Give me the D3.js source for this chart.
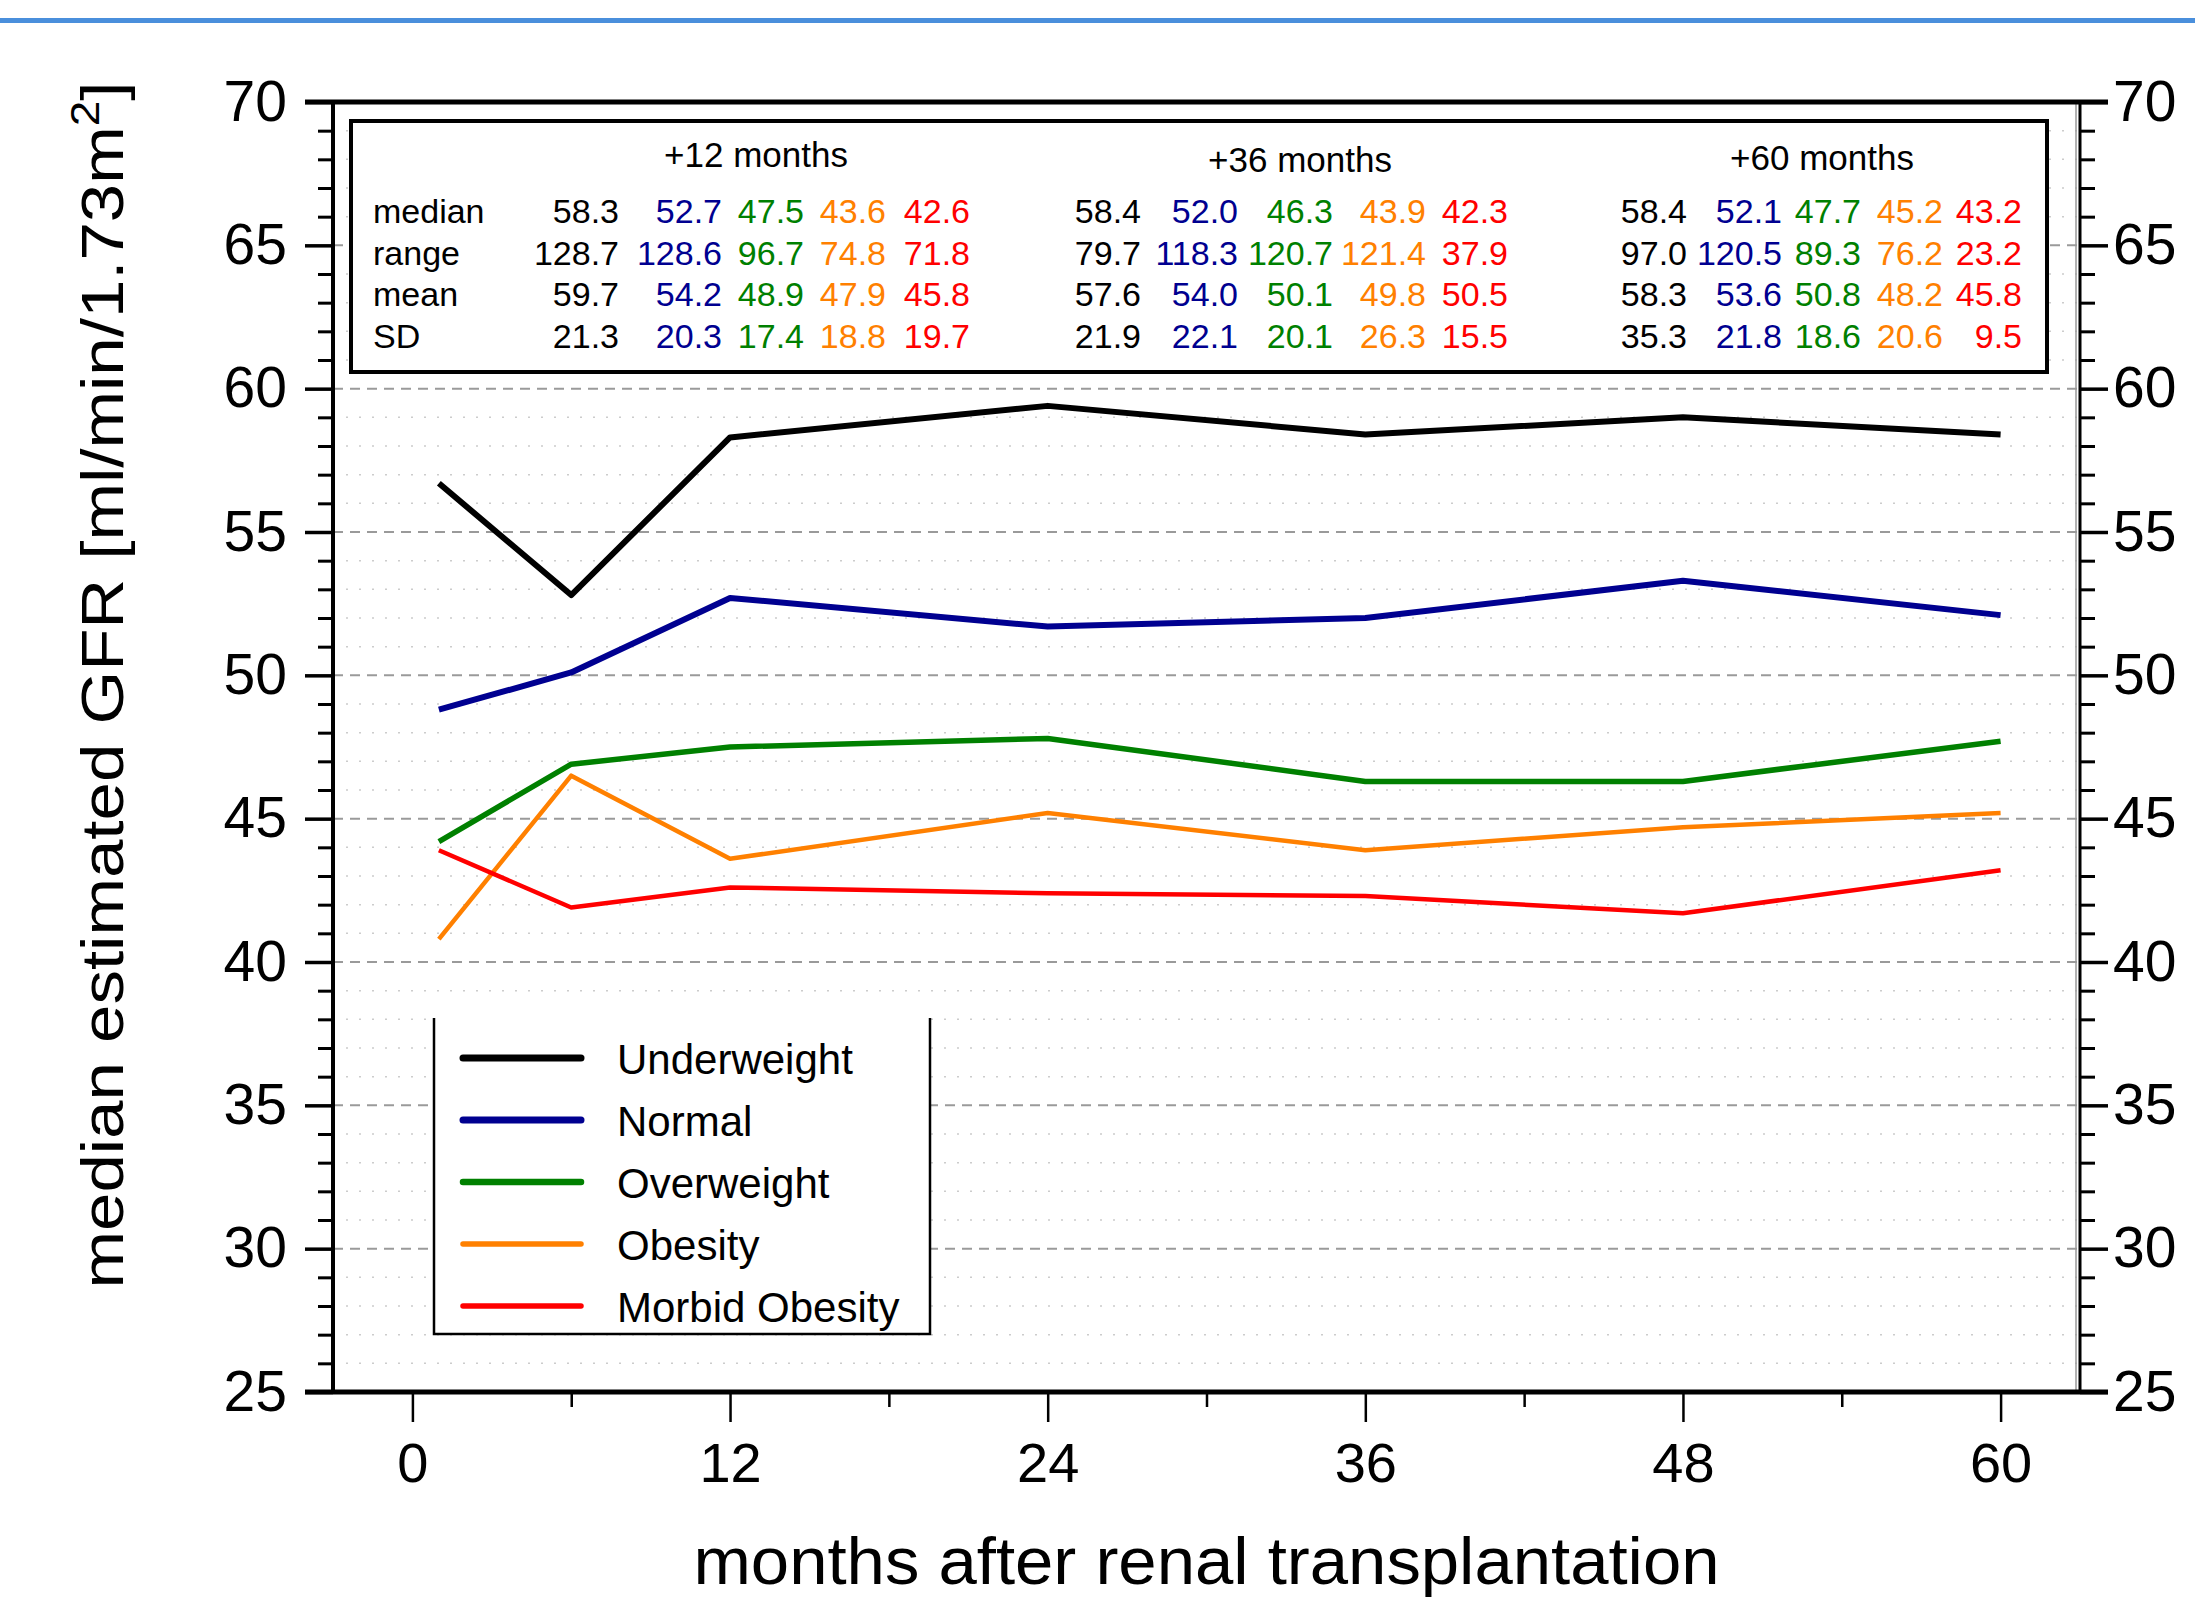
<!DOCTYPE html>
<html>
<head>
<meta charset="utf-8">
<script src="https://cdn.jsdelivr.net/npm/d3@7.9.0/dist/d3.min.js"></script>
<style>
  body { margin: 0; background: #fff; }
  svg { display: block; font-family: "Liberation Sans", Arial, sans-serif; }
</style>
</head>
<body>
<svg id="chart" width="2195" height="1597"></svg>
<script>
// data
const months = [1, 6, 12, 24, 36, 48, 60];
const underweight = [56.7, 52.8, 58.3, 59.4, 58.4, 59.0, 58.4];
const normal = [48.8, 50.1, 52.7, 51.7, 52.0, 53.3, 52.1];
const overweight = [44.2, 46.9, 47.5, 47.8, 46.3, 46.3, 47.7];
const obesity = [40.8, 46.5, 43.6, 45.2, 43.9, 44.7, 45.2];
const morbidObesity = [43.9, 41.9, 42.6, 42.4, 42.3, 41.7, 43.2];

const seriesNames = ["Underweight", "Normal", "Overweight", "Obesity", "Morbid Obesity"];
const seriesColors = ["#000000", "#000090", "#008000", "#ff8000", "#ff0000"];
const seriesWidths = [6, 6, 5.5, 4.5, 4.5];

const xTicks = [0, 12, 24, 36, 48, 60];
const xMinorTicks = [6, 18, 30, 42, 54];
const yTicks = [25, 30, 35, 40, 45, 50, 55, 60, 65, 70];

// summary table
const statLabels = ["median", "range", "mean", "SD"];
const tableTitles = ["+12 months", "+36 months", "+60 months"];
const stats12 = [[58.3, 52.7, 47.5, 43.6, 42.6], [128.7, 128.6, 96.7, 74.8, 71.8], [59.7, 54.2, 48.9, 47.9, 45.8], [21.3, 20.3, 17.4, 18.8, 19.7]];
const stats36 = [[58.4, 52.0, 46.3, 43.9, 42.3], [79.7, 118.3, 120.7, 121.4, 37.9], [57.6, 54.0, 50.1, 49.8, 50.5], [21.9, 22.1, 20.1, 26.3, 15.5]];
const stats60 = [[58.4, 52.1, 47.7, 45.2, 43.2], [97.0, 120.5, 89.3, 76.2, 23.2], [58.3, 53.6, 50.8, 48.2, 45.8], [35.3, 21.8, 18.6, 20.6, 9.5]];

const series = [underweight, normal, overweight, obesity, morbidObesity];
const tables = [stats12, stats36, stats60];

const svg = d3.select("#chart");

const x = d3.scaleLinear().domain([-3, 63]).range([333, 2080]);
const y = d3.scaleLinear().domain([25, 70]).range([1392, 102]);
const [x0, x1] = x.range();

// top rule of the page
svg.append("rect").attr("x", 0).attr("y", 18).attr("width", 2195).attr("height", 5).attr("fill", "#4a8fdc");

// grid
const grid = svg.append("g");
grid.selectAll("line.minor")
  .data(d3.range(26, 70).filter(v => v % 5 !== 0))
  .join("line")
  .attr("x1", x0).attr("x2", x1)
  .attr("y1", d => y(d)).attr("y2", d => y(d))
  .attr("stroke", "#cccccc").attr("stroke-width", 1.5)
  .attr("stroke-dasharray", "2,11");
grid.selectAll("line.major")
  .data(yTicks.filter(v => v > 25 && v < 70))
  .join("line")
  .attr("x1", x0).attr("x2", x1)
  .attr("y1", d => y(d)).attr("y2", d => y(d))
  .attr("stroke", "#9a9a9a").attr("stroke-width", 2)
  .attr("stroke-dasharray", "10,7");

// summary table box
const tbl = svg.append("g");
tbl.append("rect").attr("x", 351).attr("y", 121).attr("width", 1696).attr("height", 251)
  .attr("fill", "#fff").attr("stroke", "#000").attr("stroke-width", 4);

const titleX = [756, 1300, 1822];
const titleY = [167, 172, 170];
const colRight = [[619, 722, 804, 886, 970], [1141, 1238, 1333, 1426, 1508], [1687, 1782, 1861, 1943, 2022]];
const rowY = [223, 265, 306, 348];

tableTitles.forEach((t, i) => {
  tbl.append("text").attr("x", titleX[i]).attr("y", titleY[i])
    .attr("text-anchor", "middle").attr("font-size", 35).text(t);
});
statLabels.forEach((s, r) => {
  tbl.append("text").attr("x", 373).attr("y", rowY[r]).attr("font-size", 34).text(s);
});
tables.forEach((tab, ti) => {
  tab.forEach((row, r) => {
    row.forEach((v, c) => {
      tbl.append("text")
        .attr("x", colRight[ti][c]).attr("y", rowY[r])
        .attr("text-anchor", "end").attr("font-size", 34)
        .attr("fill", seriesColors[c])
        .text(v.toFixed(1));
    });
  });
});

// legend box (no top edge in the original)
const leg = svg.append("g");
leg.append("rect").attr("x", 434).attr("y", 1018).attr("width", 496).attr("height", 316).attr("fill", "#fff");
leg.append("path").attr("d", "M434,1018V1334H930V1018")
  .attr("fill", "none").attr("stroke", "#000").attr("stroke-width", 2.5);
seriesNames.forEach((n, i) => {
  const cy = 1058 + i * 62;
  leg.append("line").attr("x1", 463).attr("x2", 581).attr("y1", cy).attr("y2", cy)
    .attr("stroke", seriesColors[i]).attr("stroke-width", seriesWidths[i] + 1).attr("stroke-linecap", "round");
  leg.append("text").attr("x", 617).attr("y", cy + 16).attr("font-size", 42).text(n);
});

// series lines
const line = d3.line().x((d, i) => x(months[i])).y(d => y(d));
series.forEach((s, i) => {
  svg.append("path").datum(s).attr("d", line)
    .attr("fill", "none").attr("stroke", seriesColors[i])
    .attr("stroke-width", seriesWidths[i]).attr("stroke-linejoin", "round");
});

// axes
const styleAxis = (g, w) => {
  g.select(".domain").remove();
  g.selectAll(".tick line").attr("stroke", "#000").attr("stroke-width", w);
  g.selectAll("text").attr("font-family", "Liberation Sans, Arial, sans-serif").attr("fill", "#000");
};

const yMinor = d3.range(25, 71).filter(v => v % 5 !== 0);

svg.append("g").attr("transform", `translate(${x0},0)`)
  .call(d3.axisLeft(y).tickValues(yMinor).tickSize(15).tickFormat(""))
  .call(g => styleAxis(g, 3));
svg.append("g").attr("transform", `translate(${x0},0)`)
  .call(d3.axisLeft(y).tickValues(yTicks).tickSize(28).tickPadding(18))
  .call(g => styleAxis(g, 3.5))
  .call(g => g.selectAll("text").attr("font-size", 57));

svg.append("g").attr("transform", `translate(${x1},0)`)
  .call(d3.axisRight(y).tickValues(yMinor).tickSize(15).tickFormat(""))
  .call(g => styleAxis(g, 3));
svg.append("g").attr("transform", `translate(${x1},0)`)
  .call(d3.axisRight(y).tickValues(yTicks).tickSize(28).tickPadding(5))
  .call(g => styleAxis(g, 3.5))
  .call(g => g.selectAll("text").attr("font-size", 57));

svg.append("g").attr("transform", `translate(0,${y(25)})`)
  .call(d3.axisBottom(x).tickValues(xMinorTicks).tickSize(15).tickFormat(""))
  .call(g => styleAxis(g, 2.5));
svg.append("g").attr("transform", `translate(0,${y(25)})`)
  .call(d3.axisBottom(x).tickValues(xTicks).tickSize(30).tickPadding(20))
  .call(g => styleAxis(g, 2.5))
  .call(g => g.selectAll("text").attr("font-size", 56));

// frame lines
svg.append("line").attr("x1", x0).attr("x2", x0).attr("y1", y(70)).attr("y2", y(25))
  .attr("stroke", "#000").attr("stroke-width", 4);
svg.append("line").attr("x1", x1 - 4).attr("x2", x1 - 4).attr("y1", y(70)).attr("y2", y(25))
  .attr("stroke", "#999").attr("stroke-width", 1.5);
svg.append("line").attr("x1", x1).attr("x2", x1).attr("y1", y(70)).attr("y2", y(25))
  .attr("stroke", "#000").attr("stroke-width", 3);
svg.append("line").attr("x1", x0 - 28).attr("x2", x1 + 28).attr("y1", y(70)).attr("y2", y(70))
  .attr("stroke", "#000").attr("stroke-width", 5);
svg.append("line").attr("x1", x0 - 28).attr("x2", x1 + 28).attr("y1", y(25)).attr("y2", y(25))
  .attr("stroke", "#000").attr("stroke-width", 5);

// axis titles
svg.append("text")
  .attr("transform", `translate(123,${(y(70) + y(25)) / 2 - 62}) rotate(-90)`)
  .attr("text-anchor", "middle").attr("font-size", 60)
  .attr("textLength", 1207).attr("lengthAdjust", "spacingAndGlyphs")
  .call(t => {
    t.append("tspan").text("median estimated GFR [ml/min/1.73m");
    t.append("tspan").attr("dy", -24).attr("font-size", 40).text("2");
    t.append("tspan").attr("dy", 24).text("]");
  });

svg.append("text")
  .attr("x", x(30)).attr("y", 1584)
  .attr("text-anchor", "middle").attr("font-size", 66)
  .attr("textLength", 1026).attr("lengthAdjust", "spacingAndGlyphs")
  .text("months after renal transplantation");
</script>
</body>
</html>
